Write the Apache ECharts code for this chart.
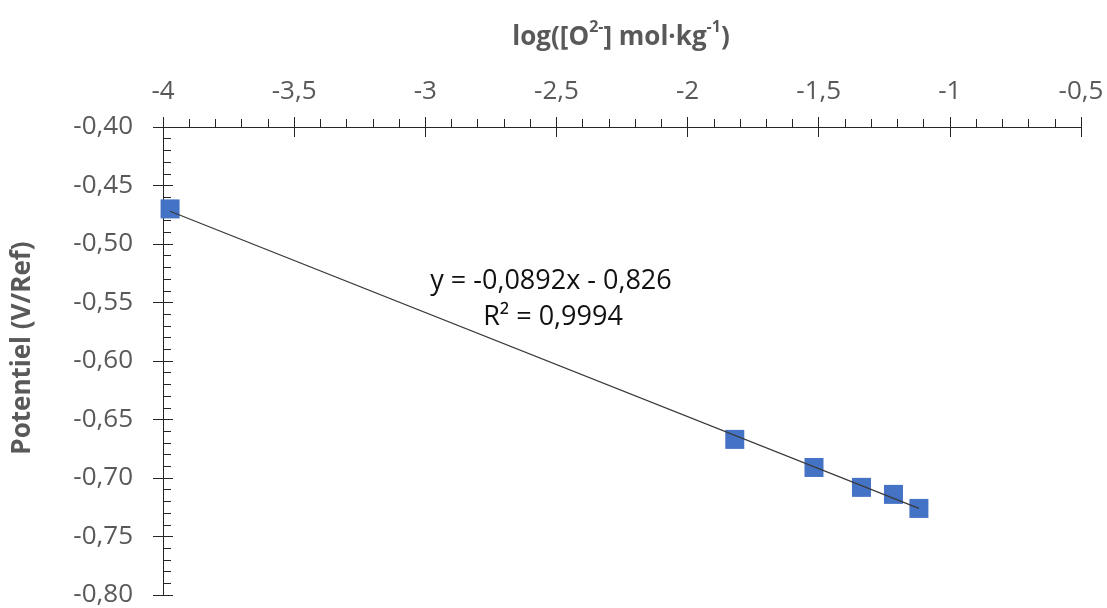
<!DOCTYPE html>
<html>
<head>
<meta charset="utf-8">
<script src="https://cdn.jsdelivr.net/npm/echarts@6/dist/echarts.min.js"></script>
<style>
html,body{margin:0;padding:0;background:#fff;}
#chart{width:1107px;height:608px;}
</style>
</head>
<body>
<div id="chart"></div>
<script>
// Data
const logO2 = [-3.973, -1.820, -1.518, -1.337, -1.215, -1.118];
const potentiel = [-0.470, -0.667, -0.691, -0.708, -0.714, -0.726];
// Linear trendline endpoints (as drawn)
const trendX = [-3.973, -1.118];
const trendY = [-0.472, -0.726];
// Tick labels
const xTickLabels = ['-4', '-3,5', '-3', '-2,5', '-2', '-1,5', '-1', '-0,5'];
const yTickLabels = ['-0,80', '-0,75', '-0,70', '-0,65', '-0,60', '-0,55', '-0,50', '-0,45', '-0,40'];
const equationLines = ['y = -0,0892x - 0,826', 'R² = 0,9994'];
const yTitle = 'Potentiel (V/Ref)';

const X_MIN = -4, X_MAX = -0.5, X_INT = 0.5;
const Y_MIN = -0.8, Y_MAX = -0.4, Y_INT = 0.05;

const FONT = '"Open Sans", "Noto Sans", sans-serif';
const LABEL_COLOR = '#595959';
const AXIS_COLOR = '#262626';

const chart = echarts.init(document.getElementById('chart'), null, {renderer: 'canvas'});

const pts = logO2.map((x, i) => [x, potentiel[i]]);
const trend = trendX.map((x, i) => [x, trendY[i]]);

function xLab(v) { return xTickLabels[Math.round((v - X_MIN) / X_INT)] || ''; }
function yLab(v) { return yTickLabels[Math.round((v - Y_MIN) / Y_INT)] || ''; }

const baseX = {
  type: 'value', position: 'top', min: X_MIN, max: X_MAX, interval: X_INT,
  splitLine: {show: false},
  axisLine: {show: true, onZero: false, lineStyle: {color: AXIS_COLOR, width: 1}}
};
const baseY = {
  type: 'value', position: 'left', min: Y_MIN, max: Y_MAX, interval: Y_INT,
  splitLine: {show: false},
  axisLine: {show: true, onZero: false, lineStyle: {color: AXIS_COLOR, width: 1}}
};

const option = {
  backgroundColor: '#ffffff',
  animation: false,
  grid: {left: 163, right: 26, top: 127, bottom: 13, containLabel: false},
  title: {
    text: '{a|log([O}{s|2-}{a|] mol·kg}{s|-1}{a|)}',
    left: 616, top: 14, textAlign: 'center',
    textStyle: {
      rich: {
        a: {fontFamily: FONT, fontWeight: 'bold', fontSize: 26, color: LABEL_COLOR, lineHeight: 32, verticalAlign: 'bottom'},
        s: {fontFamily: FONT, fontWeight: 'bold', fontSize: 16, color: LABEL_COLOR, lineHeight: 28, verticalAlign: 'top'}
      }
    }
  },
  xAxis: [
    Object.assign({}, baseX, {
      axisTick: {show: true, inside: false, length: 10, lineStyle: {color: AXIS_COLOR}},
      minorTick: {show: true, splitNumber: 5, length: 8, lineStyle: {color: AXIS_COLOR}},
      axisLabel: {show: true, margin: 22, formatter: xLab, fontFamily: FONT, fontSize: 26, color: LABEL_COLOR}
    }),
    Object.assign({}, baseX, {
      axisTick: {show: true, inside: true, length: 10, lineStyle: {color: AXIS_COLOR}},
      minorTick: {show: false},
      axisLabel: {show: false}
    })
  ],
  yAxis: [
    Object.assign({}, baseY, {
      axisTick: {show: true, inside: false, length: 10, lineStyle: {color: AXIS_COLOR}},
      minorTick: {show: false},
      axisLabel: {show: true, margin: 30, formatter: yLab, fontFamily: FONT, fontSize: 26, color: LABEL_COLOR}
    }),
    Object.assign({}, baseY, {
      axisTick: {show: true, inside: true, length: 10, lineStyle: {color: AXIS_COLOR}},
      minorTick: {show: true, splitNumber: 5, length: 8, lineStyle: {color: AXIS_COLOR}},
      axisLabel: {show: false}
    })
  ],
  graphic: [
    {
      type: 'text', id: 'ytitle',
      x: 23, y: 348, rotation: Math.PI / 2,
      style: {text: yTitle, fontFamily: FONT, fontWeight: 'bold', fontSize: 26, fill: LABEL_COLOR,
              textAlign: 'center', textVerticalAlign: 'middle'}
    },
    {
      type: 'text', id: 'eq1', x: 551, y: 281,
      style: {text: equationLines[0], fontFamily: FONT, fontSize: 27, fill: '#111111',
              textAlign: 'center', textVerticalAlign: 'middle'}
    },
    {
      type: 'text', id: 'eq2', x: 553, y: 317,
      style: {text: equationLines[1], fontFamily: FONT, fontSize: 27, fill: '#111111',
              textAlign: 'center', textVerticalAlign: 'middle'}
    }
  ],
  series: [
    {
      type: 'line', name: 'trend', data: trend, xAxisIndex: 0, yAxisIndex: 0,
      showSymbol: false, symbol: 'none', z: 3,
      lineStyle: {color: '#3a3a3a', width: 1.3}
    },
    {
      type: 'scatter', name: 'data', data: pts, xAxisIndex: 0, yAxisIndex: 0,
      symbol: 'rect', symbolSize: 19, z: 2,
      itemStyle: {color: '#4472C4', opacity: 1}
    }
  ]
};
chart.setOption(option);
</script>
</body>
</html>
